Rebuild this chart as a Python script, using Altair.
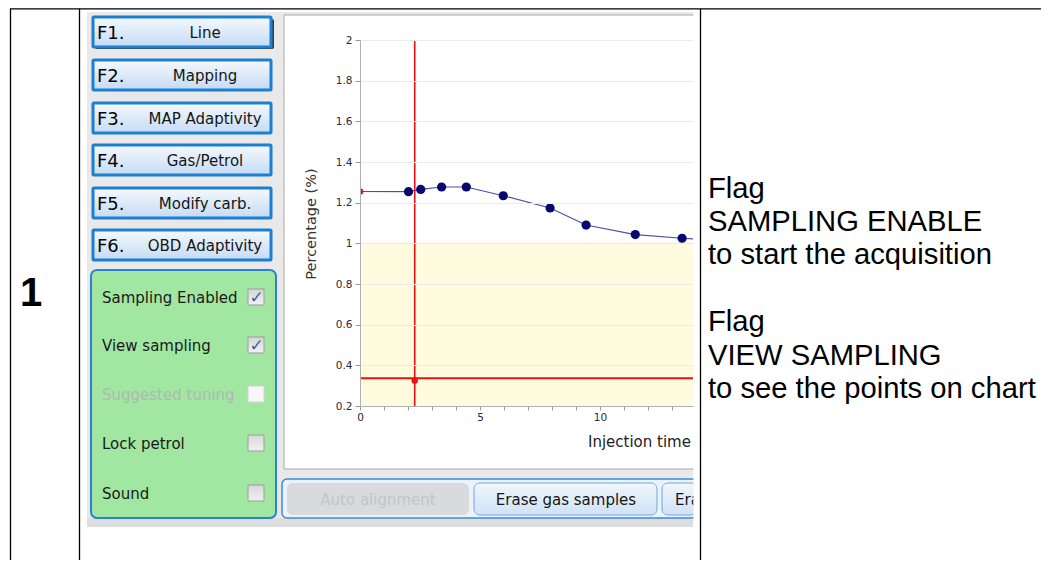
import altair as alt
import pandas as pd

# ---------------- data ----------------
# sampled points (injection time, percentage)
sample_time = [2.02, 2.53, 3.40, 4.43, 5.97, 7.92, 9.42, 11.47, 13.42]
sample_pct = [1.254, 1.265, 1.277, 1.277, 1.234, 1.174, 1.090, 1.043, 1.025]
# the polyline starts at the left edge and runs on past the cropped right edge
line_start_time, line_start_pct = 0.0, 1.255
line_end_time, line_end_pct = 15.4, 1.012
# red cursor
cursor_time = 2.28
cursor_pct = 0.337
cursor_dot_pct = 0.325
# limit band (yellow) and axis ticks
band_low, band_high = 0.2, 1.0
y_ticks = [0.2, 0.4, 0.6, 0.8, 1.0, 1.2, 1.4, 1.6, 1.8, 2.0]
x_ticks = list(range(0, 14))
x_domain = [0, 13.875]
y_domain = [0.2, 2.0]

# UI texts
fkeys = ["F1.", "F2.", "F3.", "F4.", "F5.", "F6."]
fnames = ["Line", "Mapping", "MAP Adaptivity", "Gas/Petrol", "Modify carb.", "OBD Adaptivity"]
panel_items = ["Sampling Enabled", "View sampling", "Suggested tuning", "Lock petrol", "Sound"]
panel_checked = [True, True, False, False, False]
panel_enabled = [True, True, False, True, True]
bottom_buttons = ["Auto alignment", "Erase gas samples", "Era"]
note_lines = ["Flag", "SAMPLING ENABLE", "to start the acquisition",
              "Flag", "VIEW SAMPLING", "to see the points on chart"]
row_number = "1"

# ---------------- layout ----------------
W, H = 333, 366          # plot area
OX, OY = 360, 40         # page position of plot origin
UI = "DejaVu Sans"
DOC = "Liberation Sans"
CROP = 697               # shapes run past the screenshot's right edge; a mask crops them

one = pd.DataFrame({"k": [0]})


def px(x):
    return x - OX


def py(y):
    return y - OY


def grad(c0, c1):
    return alt.Gradient(gradient="linear",
                        stops=[alt.GradientStop(color=c0, offset=0),
                               alt.GradientStop(color=c1, offset=1)],
                        x1=0, x2=0, y1=0, y2=1)


def box(x1, y1, x2, y2, fill, stroke=None, sw=1, r=0):
    kw = dict(fill=fill, cornerRadius=r)
    if stroke:
        kw.update(stroke=stroke, strokeWidth=sw)
    else:
        kw.update(strokeWidth=0)
    return alt.Chart(one).mark_rect(**kw).encode(
        x=alt.value(px(x1)), x2=alt.value(px(x2)),
        y=alt.value(py(y1)), y2=alt.value(py(y2)))


def txt(x, y, s, size, color="#111111", align="left", font=UI,
        weight="normal", baseline="alphabetic", angle=0):
    return alt.Chart(one).mark_text(
        text=s, fontSize=size, color=color, align=align, font=font,
        fontWeight=weight, baseline=baseline, angle=angle).encode(
        x=alt.value(px(x)), y=alt.value(py(y)))


def rule(x1, y1, x2, y2, color="#000000", sw=1.3):
    return alt.Chart(one).mark_rule(color=color, strokeWidth=sw).encode(
        x=alt.value(px(x1)), x2=alt.value(px(x2)),
        y=alt.value(py(y1)), y2=alt.value(py(y2)))


layers = []

# screenshot background
layers.append(box(87, 12, 693, 527, "#e9e9e9"))
layers.append(box(87, 518, 693, 527, "#dedede"))

# F buttons
btn_y = [(17, 47), (60, 90), (103, 133), (145, 175), (188, 218), (230, 260)]
for i, (y1, y2) in enumerate(btn_y):
    if i == 0:
        layers.append(box(95, y1 + 2, 274, y2 + 2, "#3a3a3a", r=2))
    layers.append(box(93, y1, 271, y2, grad("#f5f9fe", "#c4dbf4"),
                      stroke="#1b7fd2", sw=3, r=1))
    cy = (y1 + y2) / 2
    layers.append(txt(97, cy + 6.5, fkeys[i], 18, color="#050505"))
    layers.append(txt(205, cy + 5.5, fnames[i], 15, color="#151515", align="center"))

# green panel
layers.append(box(91, 270, 276, 518, "#a1e6a1", stroke="#2a82d6", sw=2, r=6))
item_cy = [297, 345, 394, 443, 493]
for i, cy in enumerate(item_cy):
    col = "#1a1a1a" if panel_enabled[i] else "#b2b8b2"
    layers.append(txt(102, cy + 5.5, panel_items[i], 15, color=col))
    if panel_enabled[i]:
        layers.append(box(248, cy - 8, 264, cy + 8, grad("#d6d6d6", "#f2f2f2"),
                          stroke="#9c9c9c", sw=1))
    else:
        layers.append(box(248, cy - 8, 264, cy + 8, "#f7f7f7",
                          stroke="#d4d4d4", sw=1))
    if panel_checked[i]:
        layers.append(txt(256.5, cy + 1, "\u2713", 17, color="#4a5aa0",
                          align="center", baseline="middle"))

# chart panel
layers.append(box(284, 15, CROP, 469, "#ffffff", stroke="#a9a9a9", sw=1))

# bottom button bar
layers.append(box(282, 479, CROP, 518, "#eaf3fc", stroke="#3b8ad6", sw=1.5, r=5))
layers.append(box(287, 483, 469, 515, "#d8dadc", r=6))
layers.append(txt(378, 504.5, bottom_buttons[0], 15, color="#c3c5c7", align="center"))
layers.append(box(474, 483, 657, 515, grad("#f0f6fd", "#cfe2f6"),
                  stroke="#6fa6dc", sw=1, r=6))
layers.append(txt(566, 504.5, bottom_buttons[1], 15, color="#151515", align="center"))
layers.append(box(662, 483, CROP, 515, grad("#f0f6fd", "#cfe2f6"),
                  stroke="#6fa6dc", sw=1, r=6))
layers.append(txt(675, 504.5, bottom_buttons[2], 15, color="#151515"))

# axis titles of the embedded chart
layers.append(txt(312, 224, "Percentage (%)", 14.5, color="#333333",
                  align="center", baseline="middle", angle=270))
layers.append(txt(588, 446.5, "Injection time", 15, color="#222222"))

# crop mask (right edge of the screenshot)
layers.append(box(693.5, 9.5, 700, 559, "#ffffff"))

# table lines and row number
layers += [rule(10, 8.8, 1041, 8.8), rule(10.5, 8.8, 10.5, 560),
           rule(79.5, 8.8, 79.5, 560), rule(700.5, 8.8, 700.5, 560)]
layers.append(txt(31, 306, row_number, 40, color="#000000", align="center",
                  font=DOC, weight="bold"))

# right-hand notes
note_base = [198, 231, 264, 331, 364.5, 397.5]
for s, b in zip(note_lines, note_base):
    layers.append(txt(708, b, s, 29.2, color="#000000", font=DOC))

# ---------------- the data chart ----------------
xscale = alt.Scale(domain=x_domain, nice=False, zero=False)
yscale = alt.Scale(domain=y_domain, nice=False, zero=False)
xaxis = alt.Axis(values=x_ticks, labelExpr="datum.value % 5 === 0 ? datum.label : ''",
                 labelFlush=False, tickSize=4, tickColor="#9a9a9a",
                 domainColor="#b0b0b0", labelFont=UI, labelFontSize=10.5,
                 labelColor="#2a2a40", labelPadding=2, grid=False, title=None,
                 zindex=1)
yaxis = alt.Axis(values=y_ticks, format="~g", tickSize=5, tickColor="#9a9a9a",
                 domainColor="#b0b0b0", labelFont=UI, labelFontSize=10.5,
                 labelColor="#2a2a40", labelPadding=3, grid=True,
                 gridColor="#ebebeb", title=None, zindex=1)


def X():
    return alt.X("t:Q", scale=xscale, axis=xaxis)


def Y():
    return alt.Y("p:Q", scale=yscale, axis=yaxis)


band_df = pd.DataFrame({"p": [band_high], "p2": [band_low]})
limit_df = pd.DataFrame({"p": [band_high]})
line_df = pd.DataFrame({"t": [line_start_time] + sample_time + [line_end_time],
                        "p": [line_start_pct] + sample_pct + [line_end_pct]})
pts_df = pd.DataFrame({"t": sample_time, "p": sample_pct})
cur_v = pd.DataFrame({"t": [cursor_time]})
cur_h = pd.DataFrame({"p": [cursor_pct]})
red_df = pd.DataFrame({"t": [line_start_time, cursor_time],
                       "p": [line_start_pct, cursor_dot_pct]})

layers.append(alt.Chart(band_df).mark_rect(fill="#fffbdf", strokeWidth=0).encode(
    y=Y(), y2="p2", x=alt.value(0), x2=alt.value(W)))
layers.append(alt.Chart(limit_df).mark_rule(color="#f2cfc8", strokeWidth=1).encode(
    y=Y(), x=alt.value(0), x2=alt.value(W)))
layers.append(alt.Chart(line_df).mark_line(color="#4c4cb4", strokeWidth=1.2, clip=True).encode(
    x=X(), y=Y(), order="t:Q"))
layers.append(alt.Chart(pts_df).mark_circle(size=85, color="#07076e", opacity=1, clip=True).encode(
    x=X(), y=Y()))
layers.append(alt.Chart(cur_v).mark_rule(color="#ee1111", strokeWidth=1.6).encode(
    x=X(), y=alt.value(0), y2=alt.value(H)))
layers.append(alt.Chart(cur_h).mark_rule(color="#ee1111", strokeWidth=2, clip=True).encode(
    y=Y(), x=alt.value(0), x2=alt.value(W)))
layers.append(alt.Chart(red_df).mark_circle(size=42, color="#ee1111", opacity=1, clip=True).encode(
    x=X(), y=Y()))

chart = alt.layer(*layers).properties(
    width=W, height=H,
    padding={"left": OX - 8, "top": OY - 8, "right": 1041 - (OX + W), "bottom": 560 - (OY + H)},
    autosize=alt.AutoSizeParams(type="none"),
    background="white",
).configure_view(stroke=None, fill=None)

chart.save("out.html", embed_options={"renderer": "svg", "actions": False})
